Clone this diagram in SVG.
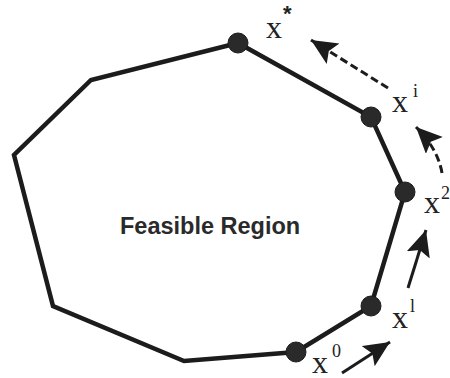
<svg xmlns="http://www.w3.org/2000/svg" width="450" height="378" viewBox="0 0 450 378">
<defs>
<style>
.edge{fill:none;stroke:#1c1c1c;stroke-width:4.5;stroke-linejoin:miter}
.dot{fill:#2a2a2a;stroke:#1c1c1c;stroke-width:1}
.arr{fill:none;stroke:#1c1c1c;stroke-width:3}
.dash{stroke-dasharray:8 4}
.lbl{font-family:"Liberation Serif","Times New Roman",serif;font-size:32px;fill:#222}
.sup{font-family:"Liberation Serif","Times New Roman",serif;font-size:18px;fill:#222}
.star{font-family:"Liberation Sans",Arial,sans-serif;font-size:22px;font-weight:bold;fill:#222}
.title{font-family:"Liberation Sans",Arial,sans-serif;font-size:23.5px;font-weight:bold;fill:#2a2a2a}
</style>
<marker id="head" markerUnits="userSpaceOnUse" markerWidth="30" markerHeight="26" refX="26" refY="12" orient="auto">
<path d="M0,0 L26,12 L0,24 L5,12 z" fill="#1c1c1c"/>
</marker>
</defs>
<rect width="450" height="378" fill="#ffffff"/>
<g id="region">
<polygon class="edge" points="238,43 91,80 14,155 53,306 184,361 296,352 371,306 405,192 371,117"/>
<text class="title" x="120" y="234">Feasible Region</text>
</g>
<g id="connectors">
<line class="arr" x1="342" y1="373" x2="390" y2="342" marker-end="url(#head)"/>
<line class="arr" x1="408" y1="288" x2="426" y2="230" marker-end="url(#head)"/>
<path class="arr dash" d="M442,173 Q438,149 416,127" marker-end="url(#head)"/>
<line class="arr dash" x1="388" y1="88" x2="311" y2="40" marker-end="url(#head)"/>
</g>
<g id="x0">
<circle class="dot" cx="296" cy="352" r="10"/>
<text class="lbl" x="312" y="373">x</text>
<text class="sup" x="332" y="357">0</text>
</g>
<g id="x1">
<circle class="dot" cx="371" cy="306" r="10"/>
<text class="lbl" x="392" y="328">x</text>
<text class="sup" x="410" y="312">l</text>
</g>
<g id="x2">
<circle class="dot" cx="405" cy="192" r="10"/>
<text class="lbl" x="424" y="213">x</text>
<text class="sup" x="441" y="199">2</text>
</g>
<g id="xi">
<circle class="dot" cx="371" cy="117" r="10"/>
<text class="lbl" x="392" y="112">x</text>
<text class="sup" x="413" y="97">i</text>
</g>
<g id="xstar">
<circle class="dot" cx="238" cy="43" r="10"/>
<text class="lbl" x="266" y="38">x</text>
<text class="star" x="283" y="21">*</text>
</g>
</svg>
